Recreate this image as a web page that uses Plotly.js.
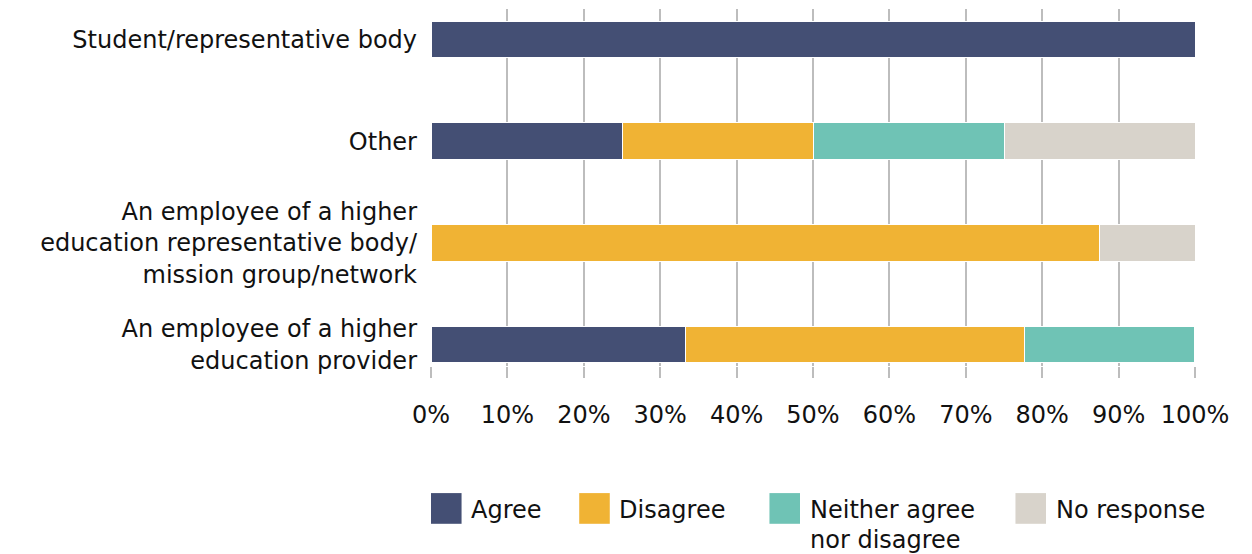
<!DOCTYPE html>
<html>
<head>
<meta charset="utf-8">
<script src="https://cdn.plot.ly/plotly-3.0.1.min.js"></script>
<style>html,body{margin:0;padding:0;background:#fff;}#chart{width:1252px;height:554px;}</style>
</head>
<body>
<div id="chart"></div>
<script>
// Categories bottom-to-top
const categories = [
  "An employee of a higher<br>education provider",
  "An employee of a higher<br>education representative body/<br>mission group/network",
  "Other",
  "Student/representative body"
];
const seriesNames = ["Agree", "Disagree", "Neither agree<br>nor disagree", "No response"];
const agree      = [33.3, 0,    25, 100];
const disagree   = [44.4, 87.5, 25, 0];
const neither    = [22.2, 0,    25, 0];
const noResponse = [0,    12.5, 25, 0];
const colors = ["#444f74", "#f0b334", "#6fc3b5", "#d8d3cb"];
const xTickVals = [0,10,20,30,40,50,60,70,80,90,100];
const xTickText = ["0%","10%","20%","30%","40%","50%","60%","70%","80%","90%","100%"];

const FONT = "'DejaVu Sans', 'Noto Sans', sans-serif";
const FS = 24;
const allSeries = [agree, disagree, neither, noResponse];

const traces = allSeries.map((vals, i) => ({
  type: "bar",
  orientation: "h",
  name: seriesNames[i],
  y: categories,
  x: vals,
  width: 0.36,
  marker: {color: colors[i], line: {color: "#ffffff", width: 1}},
  hoverinfo: "x+name",
  showlegend: false
}));

// Manual legend (large square keys); each text line placed separately (30px leading)
const legendX = [0.0, 0.194, 0.443, 0.765];
const lineTops = [-0.3585, -0.4425];
const shapes = [];
const annotations = [];
seriesNames.forEach((n, i) => {
  shapes.push({
    type: "rect", xref: "paper", yref: "paper",
    x0: legendX[i], x1: legendX[i] + 0.040,
    y0: -0.442, y1: -0.356,
    fillcolor: colors[i], line: {width: 0}
  });
  n.split("<br>").forEach((line, j) => {
    annotations.push({
      xref: "paper", yref: "paper",
      x: legendX[i] + 0.050, y: lineTops[j],
      xanchor: "left", yanchor: "top", align: "left",
      text: line, showarrow: false,
      font: {family: FONT, size: FS, color: "#111"}
    });
  });
});

const layout = {
  width: 1252, height: 554,
  margin: {l: 431, r: 57, t: 9, b: 188, pad: 0},
  barmode: "stack",
  paper_bgcolor: "#ffffff",
  plot_bgcolor: "#ffffff",
  font: {family: FONT, size: FS, color: "#111"},
  xaxis: {
    range: [0, 100],
    tickvals: xTickVals,
    ticktext: xTickText,
    showgrid: true,
    gridcolor: "#bdbdbd",
    gridwidth: 2,
    zeroline: false,
    showline: false,
    ticks: "outside",
    ticklen: 11,
    tickwidth: 2,
    tickcolor: "#bdbdbd",
    ticklabelstandoff: 16,
    tickfont: {family: FONT, size: FS, color: "#111"},
    fixedrange: true
  },
  yaxis: {
    type: "category",
    categoryorder: "array",
    categoryarray: categories,
    range: [-0.21, 3.30],
    showgrid: false,
    zeroline: false,
    showline: false,
    ticks: "",
    ticklabelstandoff: 13,
    tickfont: {family: FONT, size: FS, color: "#111"},
    fixedrange: true
  },
  shapes: shapes,
  annotations: annotations
};

Plotly.newPlot("chart", traces, layout, {displayModeBar: false, staticPlot: true});
</script>
</body>
</html>
